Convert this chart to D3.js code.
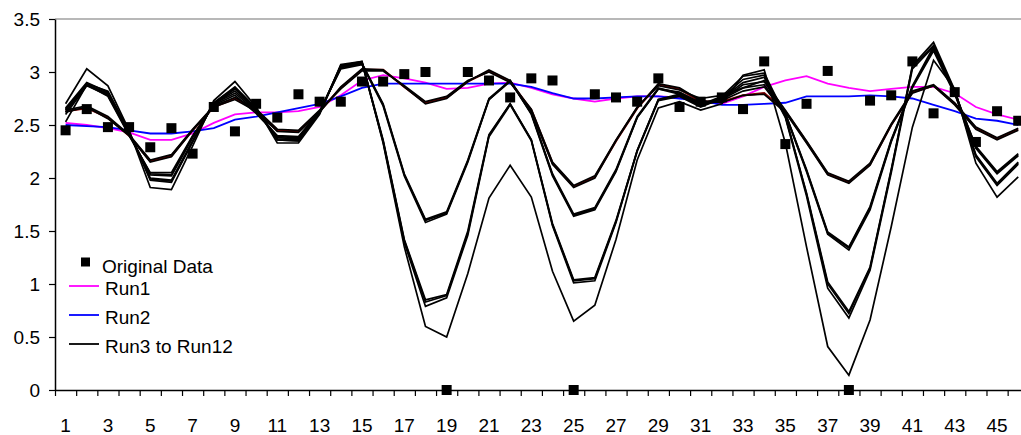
<!DOCTYPE html>
<html>
<head>
<meta charset="utf-8">
<script src="https://cdn.jsdelivr.net/npm/d3@7"></script>
<style>
  html, body { margin: 0; padding: 0; background: #fff; }
  svg { display: block; }
  text { font-family: "Liberation Sans", Arial, sans-serif; fill: #000; }
</style>
</head>
<body>
<svg id="chart" width="1021" height="435"></svg>
<script>
// ---------------- DATA ----------------
const categories = d3.range(1, 47);               // 1 .. 46
const xTickLabels = categories.filter(d => d % 2 === 1);
const yTickValues = [0, 0.5, 1, 1.5, 2, 2.5, 3, 3.5];

const originalData = [2.45,2.65,2.48,2.48,2.29,2.47,2.23,2.67,2.44,2.70,
                      2.57,2.79,2.72,2.72,2.91,2.91,2.98,3.00,0.00,3.00,
                      2.92,2.76,2.94,2.92,0.00,2.79,2.76,2.72,2.94,2.67,
                      2.72,2.76,2.65,3.10,2.32,2.70,3.01,0.00,2.73,2.78,
                      3.10,2.61,2.81,2.34,2.63,2.54];

const run1 = [2.52,2.50,2.47,2.43,2.36,2.36,2.42,2.52,2.60,2.62,
              2.62,2.63,2.67,2.78,2.92,2.97,2.94,2.90,2.84,2.85,
              2.89,2.90,2.85,2.79,2.75,2.72,2.75,2.77,2.77,2.76,
              2.72,2.70,2.77,2.86,2.92,2.96,2.89,2.85,2.82,2.84,
              2.86,2.86,2.80,2.67,2.60,2.55];

const run2 = [2.50,2.49,2.48,2.45,2.42,2.42,2.44,2.47,2.55,2.58,
              2.62,2.66,2.70,2.77,2.85,2.89,2.89,2.89,2.89,2.89,
              2.89,2.89,2.86,2.80,2.75,2.75,2.76,2.77,2.77,2.75,
              2.73,2.69,2.69,2.70,2.71,2.77,2.77,2.77,2.78,2.77,
              2.75,2.69,2.63,2.56,2.54,2.50];

const run3 = [2.63,2.66,2.57,2.40,2.16,2.21,2.45,2.67,2.75,2.64,
              2.45,2.44,2.63,2.85,3.02,3.02,2.86,2.71,2.76,2.91,
              3.01,2.91,2.64,2.14,1.92,2.01,2.35,2.66,2.88,2.84,
              2.72,2.72,2.78,2.80,2.63,2.34,2.04,1.96,2.13,2.50,
              2.81,2.87,2.70,2.47,2.37,2.46];
const run4 = [2.62,2.67,2.56,2.40,2.15,2.20,2.45,2.67,2.74,2.63,
              2.44,2.43,2.62,2.86,3.03,3.02,2.86,2.70,2.75,2.91,
              3.02,2.92,2.63,2.13,1.91,2.00,2.35,2.66,2.89,2.85,
              2.73,2.71,2.78,2.79,2.62,2.33,2.03,1.95,2.12,2.50,
              2.80,2.87,2.69,2.46,2.36,2.45];
const run5 = [2.62,2.88,2.79,2.42,2.03,2.02,2.38,2.70,2.82,2.64,
              2.38,2.37,2.62,3.05,3.08,2.70,2.04,1.61,1.68,2.17,
              2.75,2.92,2.61,2.04,1.66,1.72,2.08,2.58,2.85,2.80,
              2.70,2.74,2.85,2.88,2.61,2.08,1.49,1.35,1.73,2.36,
              2.86,3.22,2.80,2.30,2.06,2.23];
const run6 = [2.53,2.88,2.77,2.40,2.05,2.05,2.40,2.69,2.78,2.61,
              2.40,2.39,2.63,3.03,3.07,2.68,2.02,1.58,1.66,2.15,
              2.74,2.92,2.60,2.02,1.64,1.70,2.06,2.57,2.84,2.79,
              2.69,2.73,2.82,2.86,2.60,2.06,1.47,1.32,1.70,2.34,
              2.85,3.20,2.79,2.28,2.04,2.21];
const run7 = [2.60,2.87,2.78,2.41,2.04,2.03,2.39,2.70,2.80,2.63,
              2.39,2.38,2.62,3.04,3.08,2.69,2.03,1.60,1.67,2.16,
              2.74,2.91,2.61,2.03,1.65,1.71,2.07,2.57,2.84,2.81,
              2.71,2.74,2.88,2.91,2.61,2.07,1.48,1.34,1.72,2.35,
              2.87,3.24,2.81,2.29,2.05,2.22];
const run8 = [2.65,2.89,2.82,2.44,1.98,1.96,2.34,2.71,2.86,2.66,
              2.36,2.35,2.62,3.06,3.10,2.36,1.42,0.85,0.90,1.50,
              2.41,2.70,2.36,1.57,1.04,1.06,1.60,2.26,2.74,2.78,
              2.68,2.76,2.93,2.97,2.58,1.86,1.02,0.74,1.16,2.08,
              3.05,3.25,2.82,2.22,1.95,2.15];
const run9 = [2.64,2.88,2.80,2.43,2.00,1.98,2.35,2.70,2.84,2.65,
              2.37,2.36,2.61,3.05,3.09,2.34,1.39,0.79,0.87,1.46,
              2.39,2.69,2.35,1.55,1.01,1.03,1.58,2.25,2.73,2.77,
              2.67,2.75,2.90,2.95,2.57,1.83,0.96,0.68,1.13,2.05,
              3.03,3.24,2.81,2.20,1.93,2.13];
const run10 = [2.66,2.90,2.81,2.43,1.99,1.97,2.34,2.71,2.85,2.65,
               2.36,2.35,2.62,3.06,3.09,2.35,1.41,0.83,0.89,1.48,
               2.40,2.70,2.36,1.56,1.03,1.05,1.59,2.26,2.74,2.79,
               2.69,2.77,2.96,2.99,2.59,1.85,1.00,0.72,1.15,2.07,
               3.06,3.28,2.83,2.21,1.94,2.14];
const run11 = [2.70,3.03,2.87,2.45,1.91,1.89,2.30,2.73,2.91,2.67,
               2.33,2.33,2.60,3.07,3.10,2.33,1.35,0.60,0.50,1.10,
               1.81,2.12,1.82,1.12,0.65,0.80,1.42,2.17,2.66,2.72,
               2.64,2.70,2.97,3.02,2.33,1.35,0.41,0.14,0.66,1.54,
               2.48,3.11,2.84,2.14,1.82,2.01];
const run12 = [2.64,2.68,2.58,2.41,2.17,2.22,2.46,2.68,2.76,2.65,
               2.46,2.45,2.64,2.84,3.01,3.01,2.87,2.72,2.77,2.92,
               3.00,2.90,2.65,2.15,1.93,2.02,2.36,2.67,2.87,2.83,
               2.75,2.78,2.85,2.92,2.64,2.35,2.05,1.97,2.14,2.51,
               2.82,2.88,2.71,2.48,2.38,2.47];

const legendLabels = ["Original Data", "Run1", "Run2", "Run3 to Run12"];

// ---------------- LAYOUT ----------------
const svg = d3.select("#chart");
const plotLeft = 55, plotTop = 19, plotBottom = 390;
const step = 21.17;
const plotRight = plotLeft + categories.length * step;

const xBand = d3.scaleBand().domain(categories).range([plotLeft, plotRight]).padding(0);
const xEdge = d3.scaleLinear().domain([0, categories.length]).range([plotLeft, plotRight]);
const y = d3.scaleLinear().domain([0, 3.5]).range([plotBottom, plotTop]);
const xc = d => xBand(d) + xBand.bandwidth() / 2;

// plot area top border
svg.append("line")
  .attr("x1", plotLeft).attr("x2", 1021).attr("y1", plotTop).attr("y2", plotTop)
  .attr("stroke", "#a0a0a0").attr("stroke-width", 1.5);

// lines
const line = d3.line().x((d, i) => xc(categories[i])).y(d => y(d));
const series = [
  {v: run1, c: "#ff00ff", w: 1.8},
  {v: run2, c: "#0000ff", w: 1.8},
  {v: run3, c: "#800000", w: 2.2},
  {v: run4, c: "#000", w: 1.7},
  {v: run5, c: "#000", w: 1.7},
  {v: run6, c: "#000", w: 1.7},
  {v: run7, c: "#000", w: 1.7},
  {v: run8, c: "#000", w: 1.7},
  {v: run9, c: "#000", w: 1.7},
  {v: run10, c: "#000", w: 1.7},
  {v: run11, c: "#000", w: 1.7},
  {v: run12, c: "#000", w: 1.7}
];
svg.append("g").selectAll("path").data(series).join("path")
  .attr("d", s => line(s.v))
  .attr("fill", "none")
  .attr("stroke", s => s.c)
  .attr("stroke-width", s => s.w)
  .attr("stroke-linejoin", "miter");

// original data markers
const ms = 10;
svg.append("g").selectAll("rect").data(originalData).join("rect")
  .attr("x", (d, i) => xc(categories[i]) - ms / 2)
  .attr("y", d => y(d) - ms / 2)
  .attr("width", ms).attr("height", ms)
  .attr("fill", "#000");

// axes
const fontSize = "19px";
const yAxis = svg.append("g").attr("transform", `translate(${plotLeft},0)`)
  .call(d3.axisLeft(y).tickValues(yTickValues).tickFormat(d => String(d))
        .tickSize(6).tickSizeOuter(0).tickPadding(9));
yAxis.selectAll("text").style("font-size", fontSize);
yAxis.select(".domain").attr("stroke", "#000").attr("stroke-width", 1.5);
yAxis.selectAll(".tick line").attr("stroke-width", 1.2);

const xTicks = svg.append("g").attr("transform", `translate(0,${plotBottom})`)
  .call(d3.axisBottom(xEdge).tickValues(d3.range(0, categories.length + 1))
        .tickFormat("").tickSize(6).tickSizeOuter(0));
xTicks.select(".domain").attr("stroke", "#000").attr("stroke-width", 1.5);
xTicks.selectAll(".tick line").attr("stroke-width", 1.2);

const xLabels = svg.append("g").attr("transform", `translate(0,${plotBottom})`)
  .call(d3.axisBottom(xBand).tickValues(xTickLabels).tickSize(0).tickPadding(29));
xLabels.select(".domain").remove();
xLabels.selectAll("text").style("font-size", fontSize);

// legend
const lg = svg.append("g");
lg.append("rect").attr("x", 81).attr("y", 257.5).attr("width", 9).attr("height", 9).attr("fill", "#000");
lg.append("text").attr("x", 102).attr("y", 266).attr("dy", "0.35em").style("font-size", fontSize).text(legendLabels[0]);
const legLines = [
  {c: "#ff00ff", y: 286, t: legendLabels[1]},
  {c: "#0000ff", y: 315, t: legendLabels[2]},
  {c: "#000", y: 344, t: legendLabels[3]}
];
legLines.forEach(l => {
  lg.append("line").attr("x1", 69).attr("x2", 99).attr("y1", l.y).attr("y2", l.y)
    .attr("stroke", l.c).attr("stroke-width", 1.8);
  lg.append("text").attr("x", 105).attr("y", l.y + 2.5).attr("dy", "0.35em")
    .style("font-size", fontSize).text(l.t);
});
</script>
</body>
</html>
